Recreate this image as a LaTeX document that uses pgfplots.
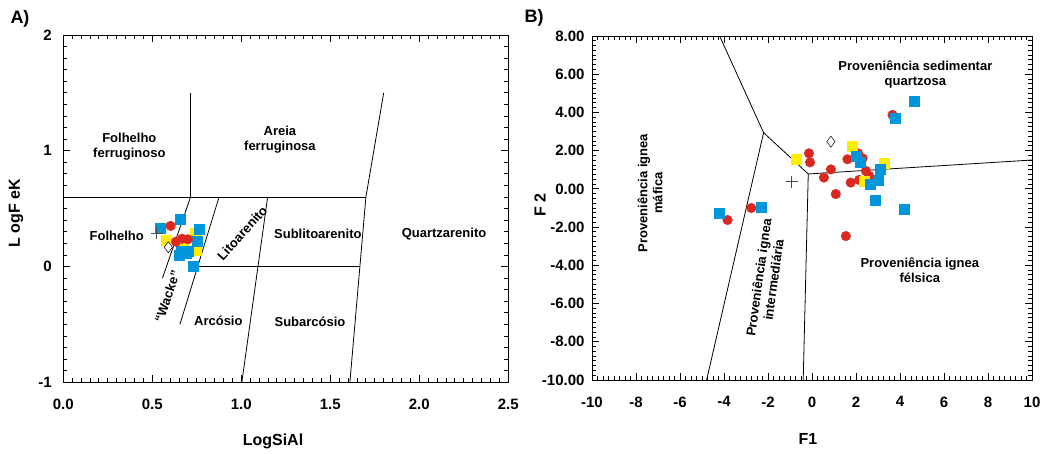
\documentclass[border=0pt]{standalone}
\usepackage{fontspec}
\setmainfont{Liberation Sans}
\usepackage{pgfplots}
\pgfplotsset{compat=1.18}
\definecolor{blueM}{RGB}{0,150,220}
\definecolor{redM}{RGB}{218,40,32}
\definecolor{yelM}{RGB}{255,238,0}
\pgfplotsset{
  bsq/.style={only marks, mark=square*, mark size=5pt, mark options={draw=blueM, fill=blueM}},
  ysq/.style={only marks, mark=square*, mark size=5pt, mark options={draw=yelM, fill=yelM}},
  rci/.style={only marks, mark=*, mark size=4.8pt, mark options={draw=redM, fill=redM}},
  dia/.style={only marks, mark=diamond*, mark size=5.5pt, mark options={draw=black, fill=white, line width=0.5pt}},
  pls/.style={only marks, mark=+, mark size=6pt, mark options={draw=black!70, line width=0.6pt}},
  reg/.style={black, line width=0.8pt, no marks},
}
\newcommand{\lab}{\fontsize{13}{15}\selectfont\bfseries}
\newcommand{\tl}{\fontsize{15}{15}\selectfont\bfseries}
\begin{document}
\begin{tikzpicture}
\path (0pt,0pt) rectangle (1045pt,454pt);
% ---------------- Panel A ----------------
\begin{axis}[
  scale only axis, anchor=south west,
  at={(63.3pt,71.7pt)}, width=445pt, height=347.3pt,
  xmin=0, xmax=2.5, ymin=-1, ymax=2,
  xtick={0,0.5,1,1.5,2,2.5}, xticklabels={0.0,0.5,1.0,1.5,2.0,2.5},
  ytick={-1,0,1,2}, yticklabels={-1,0,1,2},
  minor x tick num=9, minor y tick num=9,
  major tick length=7pt, minor tick length=4pt,
  tick style={black, line width=0.9pt},
  tick label style={font=\tl},
  xticklabel style={yshift=-13pt},
  yticklabel style={xshift=-8pt},
]
\addplot[reg] coordinates {(0,0.6) (1.70,0.6)};
\addplot[reg] coordinates {(0.715,0.6) (0.715,1.5)};
\addplot[reg] coordinates {(1.80,1.5) (1.70,0.6) (1.61,-1)};
\addplot[reg] coordinates {(0.76,0) (1.666,0)};
\addplot[reg] coordinates {(0.875,0.6) (0.655,-0.5)};
\addplot[reg] coordinates {(0.715,0.6) (0.557,-0.1)};
\addplot[reg] coordinates {(1.148,0.6) (1.003,-1)};
\node[align=center, font=\lab] at (axis cs:0.371,1.035) {Folhelho\\ferruginoso};
\node[align=center, font=\lab] at (axis cs:1.217,1.093) {Areia\\ferruginosa};
\node[font=\lab] at (axis cs:0.30,0.267) {Folhelho};
\node[font=\lab] at (axis cs:1.43,0.278) {Sublitoarenito};
\node[font=\lab] at (axis cs:2.139,0.278) {Quartzarenito};
\node[font=\lab] at (axis cs:0.871,-0.47) {Arcósio};
\node[font=\lab] at (axis cs:1.386,-0.479) {Subarcósio};
\node[font=\lab, rotate=48] at (axis cs:1.005,0.29) {Litoarenito};
\node[font=\lab, rotate=71] at (axis cs:0.584,-0.26) {“Wacke”};
% data
\addplot[ysq] coordinates {(0.577,0.230) (0.671,0.206) (0.740,0.288) (0.749,0.137)};
\addplot[bsq] coordinates {(0.547,0.331) (0.656,0.408) (0.764,0.322) (0.753,0.215)
  (0.665,0.129) (0.702,0.129) (0.652,0.10) (0.693,0.115) (0.730,0.005)};
\addplot[rci] coordinates {(0.603,0.351) (0.633,0.215) (0.667,0.240) (0.700,0.235)};
\addplot[dia] coordinates {(0.590,0.167)};
\addplot[pls] coordinates {(0.525,0.288)};
\end{axis}
% tick overlay A
\begin{axis}[
  scale only axis, anchor=south west,
  at={(63.3pt,71.7pt)}, width=445pt, height=347.3pt,
  xmin=0, xmax=2.5, ymin=-1, ymax=2,
  xtick={0,0.5,1,1.5,2,2.5}, ytick={-1,0,1,2},
  xticklabels={}, yticklabels={},
  minor x tick num=9, minor y tick num=9,
  major tick length=7pt, minor tick length=4pt,
  tick style={black, line width=0.9pt},
]
\end{axis}
% ---------------- Panel B ----------------
\begin{axis}[
  scale only axis, anchor=south west,
  at={(592pt,74pt)}, width=440pt, height=344pt,
  xmin=-10, xmax=10, ymin=-10, ymax=8,
  xtick={-10,-8,...,10}, xticklabels={-10,-8,-6,-4,-2,0,2,4,6,8,10},
  ytick={-10,-8,...,8}, yticklabels={-10.00,-8.00,-6.00,-4.00,-2.00,0.00,2.00,4.00,6.00,8.00},
  minor x tick num=7, minor y tick num=7,
  major tick length=7pt, minor tick length=4pt,
  tick style={black, line width=0.9pt},
  tick label style={font=\tl},
  xticklabel style={yshift=-13pt},
  yticklabel style={xshift=-4pt},
]
\addplot[reg] coordinates {(-4.2,8) (-2.2,2.94) (-0.17,0.78) (10,1.51)};
\addplot[reg] coordinates {(-2.2,2.94) (-4.79,-10)};
\addplot[reg] coordinates {(-0.17,0.78) (-0.4,-10)};
\node[align=center, font=\lab] at (axis cs:4.7,6.01) {Proveniência sedimentar\\quartzosa};
\node[align=center, font=\lab] at (axis cs:4.9,-4.24) {Proveniência ignea\\félsica};
\node[align=center, font=\lab, rotate=90] at (axis cs:-7.36,-0.22) {Proveniência ignea\\máfica};
\node[align=center, font=\lab, rotate=82] at (axis cs:-2.09,-4.7) {Proveniência ignea\\intermediária};
% data
\addplot[rci] coordinates {(-3.84,-1.63) (-2.76,-1.0) (-0.14,1.86) (-0.09,1.39) (0.86,1.02)
  (0.54,0.59) (1.08,-0.27) (1.54,-2.47) (1.61,1.55) (2.10,1.86) (2.3,1.6) (1.76,0.33)
  (2.14,0.47) (2.45,0.94) (2.60,0.68) (3.66,3.87)};
\addplot[ysq] coordinates {(-0.71,1.55) (1.83,2.21) (3.26,1.34) (2.35,0.41)};
\addplot[bsq] coordinates {(-4.22,-1.28) (-2.29,-0.97) (4.63,4.6) (3.79,3.69) (1.99,1.69)
  (2.20,1.42) (3.08,1.02) (3.0,0.46) (2.63,0.24) (2.85,-0.58) (4.17,-1.07)};
\addplot[dia] coordinates {(0.86,2.47)};
\addplot[pls] coordinates {(-0.93,0.38)};
\end{axis}
% tick overlay B
\begin{axis}[
  scale only axis, anchor=south west,
  at={(592pt,74pt)}, width=440pt, height=344pt,
  xmin=-10, xmax=10, ymin=-10, ymax=8,
  xtick={-10,-8,...,10}, ytick={-10,-8,...,8},
  xticklabels={}, yticklabels={},
  minor x tick num=7, minor y tick num=7,
  major tick length=7pt, minor tick length=4pt,
  tick style={black, line width=0.9pt},
]
\end{axis}
% ---------------- outer labels ----------------
\node[font=\fontsize{18}{18}\selectfont\bfseries] at (20pt,435pt) {A)};
\node[font=\fontsize{18}{18}\selectfont\bfseries] at (534pt,436pt) {B)};
\node[font=\fontsize{16}{16}\selectfont\bfseries, rotate=90] at (16pt,241pt) {L ogF eK};
\node[font=\fontsize{16}{16}\selectfont\bfseries] at (273pt,13pt) {LogSiAl};
\node[font=\fontsize{16}{16}\selectfont\bfseries, rotate=90] at (540pt,249pt) {F 2};
\node[font=\fontsize{16}{16}\selectfont\bfseries] at (808pt,15pt) {F1};
\end{tikzpicture}
\end{document}
